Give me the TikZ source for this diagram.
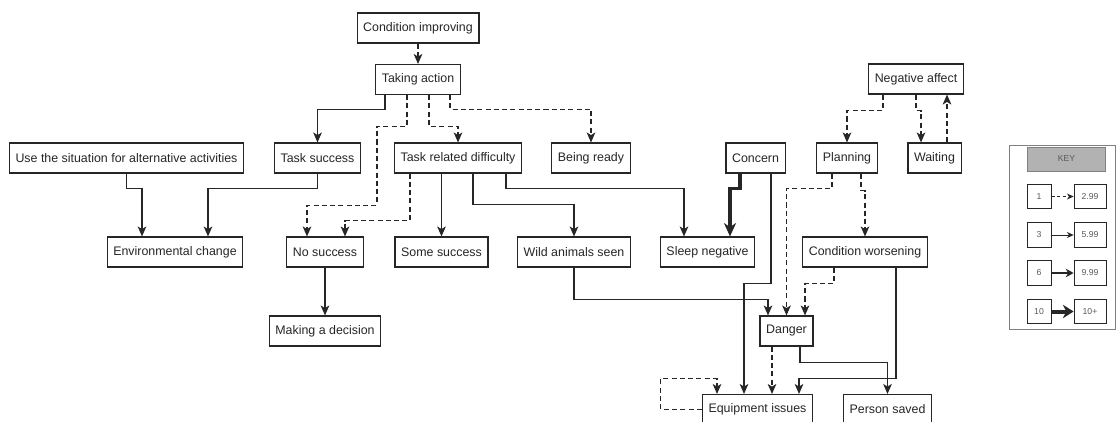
\documentclass[tikz,border=0pt]{standalone}
\usepackage{xcolor}
\usepackage{fontspec}
\setmainfont{Liberation Sans}
\usetikzlibrary{calc,arrows.meta}

\definecolor{inkgrey}{RGB}{38,38,38}
\definecolor{keyfill}{RGB}{178,178,178}

\tikzset{
  box/.style={draw=inkgrey, line width=0.85pt, fill=white, minimum height=22.5pt, inner xsep=4.6pt, inner ysep=0pt, text=inkgrey, font=\fontsize{9.3}{11}\selectfont},
  link/.style={draw=inkgrey, line width=0.8pt, -{Stealth[length=7.5pt,width=6.5pt,inset=2pt]}},
  weak/.style={link, dash pattern=on 3.8pt off 2.4pt},
  strong/.style={link, line width=2.4pt, -{Stealth[length=10pt,width=9pt,inset=3pt]}},
  keybox/.style={draw=inkgrey, line width=0.6pt, minimum width=18pt, minimum height=18.5pt, inner sep=0pt, text=black!65, font=\fontsize{6.5}{7}\selectfont},
  keyline/.style={draw=inkgrey, line width=0.6pt, -{Stealth[length=5pt,width=4.5pt,inset=1.5pt]}},
}

\begin{document}
\begin{tikzpicture}[x=0.75pt,y=0.75pt,yscale=-1,xscale=1]
	\clip (0,0) rectangle (1116,421);
	
	%Shape: Rectangle
	\node[box] (ci) at (418,28) {Condition improving};
	\node[box] (ta) at (418,79.5) {Taking action};
	\node[box] (na) at (916,79) {Negative affect};
	%Shape: Rectangle
	\node[box] (us) at (126.5,158) {Use the situation for alternative activities};
	\node[box] (ts) at (317.5,158) {Task success};
	\node[box] (trd) at (458,158) {Task related difficulty};
	\node[box] (br) at (591,158) {Being ready};
	\node[box] (co) at (755.5,158) {Concern};
	\node[box] (pl) at (847,158) {Planning};
	\node[box] (wt) at (934.5,158) {Waiting};
	%Shape: Rectangle
	\node[box] (ec) at (175,252) {Environmental change};
	\node[box] (ns) at (325,252) {No success};
	\node[box] (ss) at (441.5,252) {Some success};
	\node[box] (wa) at (574,252) {Wild animals seen};
	\node[box] (sn) at (707.5,252) {Sleep negative};
	\node[box] (cw) at (865,252) {Condition worsening};
	%Shape: Rectangle
	\node[box] (md) at (325,331) {Making a decision};
	\node[box] (dg) at (786.5,331) {Danger};
	\node[box] (eq) at (757.5,409.5) {Equipment issues};
	\node[box] (ps) at (887.5,409.5) {Person saved};
	
	%Straight Lines
	\draw[weak] (ci.south) -- (ta.north);
	\draw[link] ($(ta.south)+(-33,0)$) -- ++(0,14) -| (ts.north);
	\draw[weak] ($(ta.south)+(-11,0)$) -- ++(0,31) -- ++(-30,0) -- ++(0,79) -| ($(ns.north)+(-18,0)$);
	\draw[weak] ($(ta.south)+(11,0)$) -- ++(0,31) -| (trd.north);
	\draw[weak] ($(ta.south)+(32,0)$) -- ++(0,14) -| (br.north);
	%Straight Lines
	\draw[link] (us.south) -- ++(0,15) -| ($(ec.north)+(-33,0)$);
	\draw[link] (ts.south) -- ++(0,15) -| ($(ec.north)+(33,0)$);
	\draw[weak] ($(trd.south)+(-48,0)$) -- ++(0,47) -| ($(ns.north)+(20,0)$);
	\draw[link] ($(trd.south)+(-16.5,0)$) -- (ss.north);
	\draw[link] ($(trd.south)+(15,0)$) -- ++(0,31) -| (wa.north);
	\draw[link] ($(trd.south)+(48,0)$) -- ++(0,15) -| ($(sn.north)+(-23.5,0)$);
	\draw[strong] ($(co.south)+(-15.5,0)$) -- ++(0,15) -| ($(sn.north)+(22.5,0)$);
	\draw[link] ($(co.south)+(15.5,0)$) -- ++(0,110) -| ($(eq.north)+(-13.5,0)$);
	%Straight Lines
	\draw[weak] ($(na.south)+(-33,0)$) -- ++(0,16) -| (pl.north);
	\draw[weak] (na.south) -- ++(0,16) -| ($(wt.north)+(-13.5,0)$);
	\draw[weak] ($(wt.north)+(12.5,0)$) coordinate (wup) -- (wup |- na.south);
	\draw[weak] ($(pl.south)+(-15,0)$) -- ++(0,15) -| (dg.north);
	\draw[weak] ($(pl.south)+(14,0)$) -- ++(0,17) -| (cw.north);
	%Straight Lines
	\draw[link] (ns.south) -- (md.north);
	\draw[link] (wa.south) -- ++(0,32) -| ($(dg.north)+(-18.5,0)$);
	\draw[weak] ($(cw.south)+(-31,0)$) -- ++(0,16) -| ($(dg.north)+(18.5,0)$);
	\draw[link] ($(cw.south)+(31,0)$) -- ++(0,111) -| ($(eq.north)+(41.5,0)$);
	\draw[weak] ($(dg.south)+(-14.5,0)$) -- ($(eq.north)+(14.5,0)$);
	\draw[link] ($(dg.south)+(13.5,0)$) -- ++(0,16) -| (ps.north);
	\draw[weak] (eq.west) -- ++(-41,0) -- ++(0,-31) -| ($(eq.north)+(-40.5,0)$);
	
	%Shape: Rectangle (key)
	\draw[draw=gray, line width=0.6pt] (1009,145) rectangle (1115,329);
	\node[keybox, draw=gray, fill=keyfill, minimum width=59pt, minimum height=18pt] (kh) at (1066.5,159) {KEY};
	% Text Node
	\node[keybox] (k1a) at (1039,196.5) {1};
	\node[keybox, minimum width=24pt] (k1b) at (1090,196.5) {2.99};
	\node[keybox] (k2a) at (1039,235) {3};
	\node[keybox, minimum width=24pt] (k2b) at (1090,235) {5.99};
	\node[keybox] (k3a) at (1039,273) {6};
	\node[keybox, minimum width=24pt] (k3b) at (1090,273) {9.99};
	\node[keybox] (k4a) at (1039,311.5) {10};
	\node[keybox, minimum width=24pt] (k4b) at (1090,311.5) {10+};
	\draw[keyline, dash pattern=on 2.5pt off 1.8pt] (k1a) -- (k1b);
	\draw[keyline] (k2a) -- (k2b);
	\draw[keyline, line width=1.6pt, -{Stealth[length=6pt,width=6.5pt,inset=2pt]}] (k3a) -- (k3b);
	\draw[keyline, line width=3pt, -{Stealth[length=8pt,width=10pt,inset=2.5pt]}] (k4a) -- (k4b);
\end{tikzpicture}
\end{document}
